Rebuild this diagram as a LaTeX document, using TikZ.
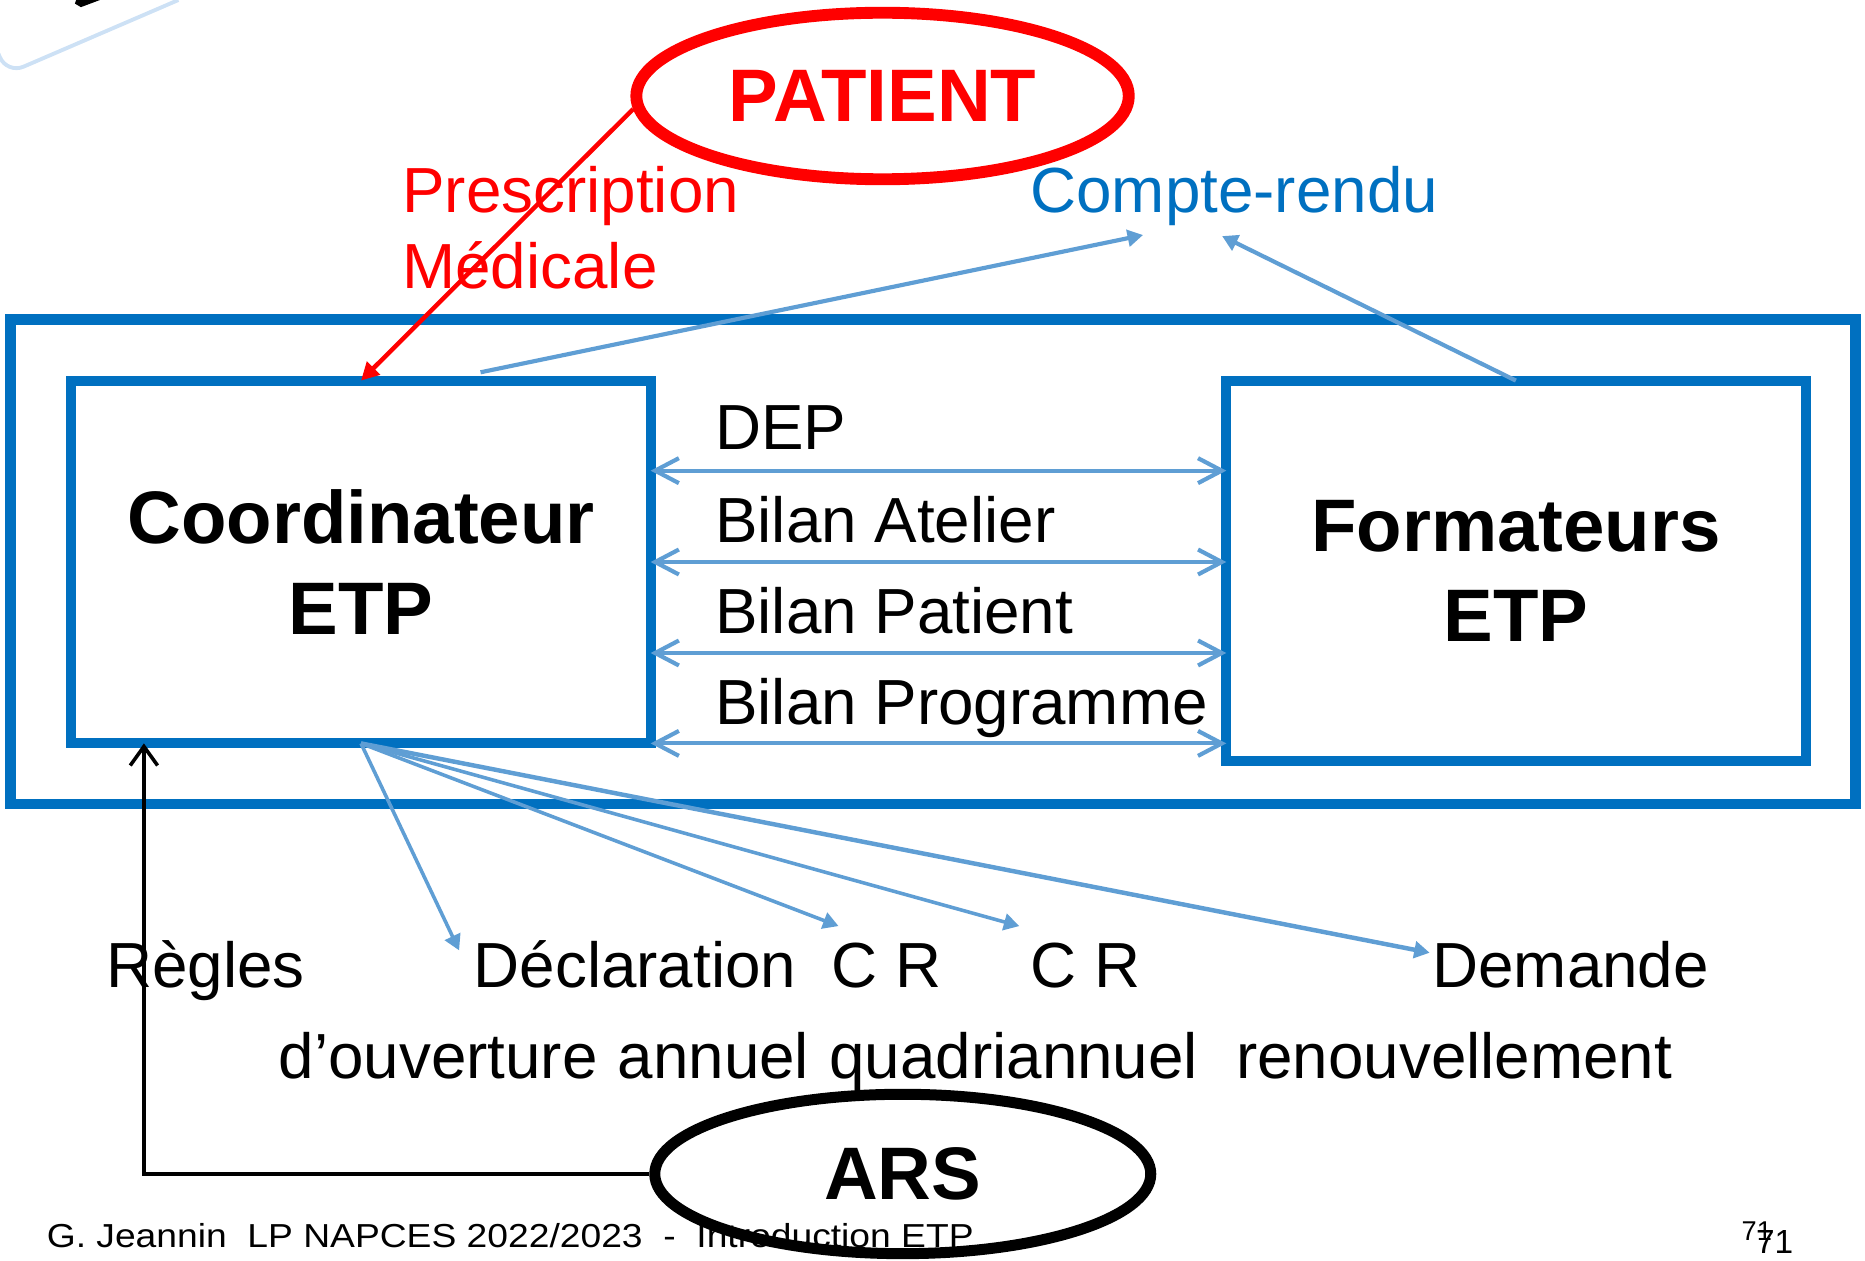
\documentclass[tikz,border=0pt]{standalone}
\usepackage{fontspec}
\setmainfont{Liberation Sans}
\newfontfamily\footfont[FakeStretch=1.12]{Liberation Sans}
\usetikzlibrary{arrows.meta,calc,shapes.geometric}
\definecolor{etpblue}{RGB}{0,112,192}
\definecolor{linkblue}{RGB}{95,158,212}
\definecolor{fragblue}{RGB}{205,225,245}
\newcommand{\etpText}{\fontsize{30.5pt}{36pt}\selectfont}
\newcommand{\etpBold}{\fontsize{35.6pt}{43.2pt}\selectfont\bfseries}

\begin{document}
\begin{tikzpicture}[x=0.2mm, y=-0.2mm,
	box/.style={draw=etpblue, line width=1.7mm, rectangle, outer sep=0pt, inner sep=0pt, font=\etpBold, align=center},
	lbl/.style={anchor=base west, inner sep=0pt, font=\etpText},
	dbl/.style={draw=linkblue, line width=0.7mm, <->, >={Straight Barb[length=4mm,width=4.2mm]}},
	link/.style={draw=linkblue, line width=0.6mm, -{Triangle[length=2.6mm,width=2.8mm]}},
	oval/.style={ellipse, inner sep=0pt, font=\etpBold}]
			%%%%% START %%%%%
			\useasboundingbox (0,0) rectangle (1568,1060);
			
			% bout de cadre coupe en haut a gauche
			\draw[fragblue, line width=0.65mm, rounded corners=3mm] (-6,34.5) -- (6,62) -- (150,0);
			\fill (64,0) -- (84,0) -- (68,6) -- (63,3) -- cycle;
			
			\node[oval, draw=red, text=red, line width=2mm, minimum width=82.8mm, minimum height=28mm] (patient) at (742,80.7) {PATIENT};
			\node[lbl, text=red] (presc) at (338,178.5) {Prescription};
			\node[lbl, text=red] (medic) at (338,242.5) {Médicale};
			\node[lbl, text=etpblue] (cr) at (866,178.5) {Compte-rendu};
			
			\node[draw=etpblue, line width=1.8mm, minimum width=310.2mm, minimum height=81.5mm, inner sep=0pt] (frame) at (784.5,472.3) {};
			\node[box, minimum width=97.4mm, minimum height=61mm] (coord) at (303.5,472.5) {Coordinateur\\ETP};
			\node[box, minimum width=97.4mm, minimum height=64mm] (form) at (1274.5,480) {Formateurs\\ETP};
			
			\draw[red, line width=0.75mm, -{Triangle[length=3mm,width=3mm]}] (patient.183) -- (coord.north);
			
			\coordinate (crL) at (961,197.6);
			\coordinate (crR) at (1027.5,198.5);
			\draw[link, line width=0.7mm] ($(coord.north)+(100.5,-7)$) -- (crL);
			\draw[link, line width=0.7mm] (form.north) -- (crR);
			
			\node[lbl] (dep) at (601,378) {DEP};
			\node[lbl] (batelier) at (601,456) {Bilan Atelier};
			\node[lbl] (bpatient) at (601,532.5) {Bilan Patient};
			\node[lbl] (bprog) at (601,609.5) {Bilan Programme};
			
			\coordinate (yDep) at (0,395.7);
			\coordinate (yAtelier) at (0,472.5);
			\coordinate (yPatient) at (0,549);
			\coordinate (yProg) at (0,625);
			\draw[dbl] (coord.east |- yDep) -- (form.west |- yDep);
			\draw[dbl] (coord.east |- yAtelier) -- (form.west |- yAtelier);
			\draw[dbl] (coord.east |- yPatient) -- (form.west |- yPatient);
			\draw[dbl] (coord.east |- yProg) -- (form.west |- yProg);
			
			\node[lbl] (regles) at (89,830) {Règles};
			\node[lbl] (decl) at (398,830) {Déclaration};
			\node[lbl] (crA) at (699,830) {C R};
			\node[lbl] (crB) at (866,830) {C R};
			\node[lbl] (demande) at (1204,830) {Demande};
			\node[lbl] (ouv) at (234,906.5) {d’ouverture};
			\node[lbl] (annuel) at (519,906.5) {annuel};
			\node[lbl] (quad) at (697,906.5) {quadriannuel};
			\node[lbl] (renouv) at (1039,906.5) {renouvellement};
			
			\coordinate (declTip) at (386,799);
			\coordinate (crATip) at (705,778.6);
			\coordinate (crBTip) at (857,778.6);
			\coordinate (demTip) at (1202,801);
			\draw[link] (coord.south) -- (declTip);
			\draw[link] (coord.south) -- (crATip);
			\draw[link] (coord.south) -- (crBTip);
			\draw[link, line width=0.75mm] (coord.south) -- (demTip);
			
			\node[anchor=base west, inner sep=0pt, font=\footfont\fontsize{15.9pt}{18pt}\selectfont] (foot) at (39,1049) {G. Jeannin\ \ LP NAPCES 2022/2023\ \ -\ \ Introduction ETP};
			\node[anchor=base west, inner sep=0pt, font=\fontsize{13pt}{15pt}\selectfont] (pgA) at (1464,1043) {71};
			\node[anchor=base west, inner sep=0pt, font=\fontsize{16pt}{18pt}\selectfont] (pgB) at (1476,1053.5) {71};
			
			\node[oval, draw=black, line width=1.85mm, minimum width=83.4mm, minimum height=26.8mm] (ars) at (759,987) {ARS};
			
			\coordinate (turn) at (121,987);
			\draw[line width=0.6mm, -{Straight Barb[length=3.2mm,width=4.6mm]}] (ars.west) -- (turn) -- (turn |- coord.south);
			
			%%%%% END %%%%%
\end{tikzpicture}
\end{document}
